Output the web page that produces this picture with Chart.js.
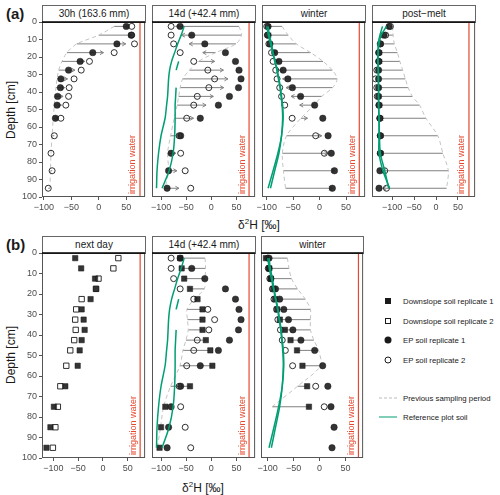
<!DOCTYPE html>
<html>
<head>
<meta charset="utf-8">
<script src="https://cdn.jsdelivr.net/npm/chart.js@4.4.0/dist/chart.umd.min.js"></script>
<style>
  body { margin: 0; background: #fff; width: 500px; height: 495px; position: relative; overflow: hidden;
         font-family: "Liberation Sans", Arial, sans-serif; color: #1a1a1a; }
  canvas { position: absolute; }
  .strip { position: absolute; box-sizing: border-box; border: 1px solid #666; background: #fff;
           font-size: 10px; text-align: center; line-height: 15px; white-space: nowrap; }
  .lbl { position: absolute; white-space: nowrap; }
  .tag { font-weight: bold; font-size: 15px; }
  .ytitle { font-size: 12px; transform: translate(-50%, -50%) rotate(-90deg); }
  .xtitle { font-size: 12px; transform: translate(-50%, -50%); }
  .xtick { position: absolute; font-size: 9px; color: #4d4d4d; white-space: nowrap; transform: translateX(-50%); line-height: 10px; }
  .leg { position: absolute; font-size: 7.8px; white-space: nowrap; transform: translateY(-50%); left: 403px; }
  .sym { position: absolute; box-sizing: border-box; transform: translate(-50%, -50%); }
</style>
</head>
<body>

<div class="lbl tag" style="left:6px; top:5px;">(a)</div>
<div class="lbl tag" style="left:6px; top:236px;">(b)</div>
<div class="lbl ytitle" style="left:11px; top:110px;">Depth [cm]</div>
<div class="lbl ytitle" style="left:11px; top:355px;">Depth [cm]</div>
<div class="lbl xtitle" style="left:259px; top:224px;">δ<sup style="font-size:8px">2</sup>H [‰]</div>
<div class="lbl xtitle" style="left:203px; top:487px;">δ<sup style="font-size:8px">2</sup>H [‰]</div>

<div class="sym" style="left:388px; top:301px; width:6px; height:6px; background:#1a1a1a;"></div>
<div class="leg" style="top:301px;">Downslope soil replicate 1</div>
<div class="sym" style="left:388px; top:321px; width:6px; height:6px; border:1px solid #1a1a1a;"></div>
<div class="leg" style="top:321px;">Downslope soil replicate 2</div>
<div class="sym" style="left:388px; top:340px; width:7px; height:7px; border-radius:50%; background:#1a1a1a;"></div>
<div class="leg" style="top:340px;">EP soil replicate 1</div>
<div class="sym" style="left:388px; top:360px; width:7px; height:7px; border-radius:50%; border:1px solid #1a1a1a;"></div>
<div class="leg" style="top:360px;">EP soil replicate 2</div>
<div class="sym" style="left:388px; top:398px; width:18px; height:0; border-top:1px dashed #bbb;"></div>
<div class="leg" style="top:398px;">Previous sampling period</div>
<div class="sym" style="left:388px; top:417px; width:18px; height:0; border-top:1.5px solid #009E73;"></div>
<div class="leg" style="top:417px;">Reference plot soil</div>

<script>
// profondidades amostradas (cm)
const depths = [2.5, 7.5, 12.5, 17.5, 22.5, 27.5, 32.5, 37.5, 42.5, 47.5, 55, 65, 75, 85, 95];
const xTicks = [-100, -50, 0, 50];
const yTicks = [0, 10, 20, 30, 40, 50, 60, 70, 80, 90, 100];
const irrigation = 75;

// EP soil, 30h
const ep1_30h = [50, 59, 33, -11, -34, -55, -69, -70, -75, -76, -79, null, null, null, null];
const ep2_30h = [60, 60, 65, 28, -17, -32, -45, -54, -55, -60, -69, -81, -87, -85, -92];
const prevEp_30h = [28, 0, -40, -58, -67, -73, -76, -78, -80, -81, -83, -85, -87, -88, -89];
const meanEp_30h = [55, 60, 49, 8.5, -25.5, -43.5, -57, -62, -65, -68, -74, -81, -87, -85, -92];

// EP soil, 14d
const ep1_14d = [-62, -39, -13, 28, 48, 55, 59, 54, 36, 14, -22, -61, -80, -85, -88];
const ep2_14d = [-80, -80, -75, -62, -35, -7, 6.5, -5, -28, -35, -49, -64, -61, -52, -41];
const meanEp_14d = [-71, -59.5, -44, -17, 6.5, 24, 33, 24.5, 4, -10.5, -35.5, -62.5, -70.5, -68.5, -64.5];

// EP soil, winter
const ep1_win = [-97.5, -97.5, -94, -85, -77, -69, -60, -51.5, -36, -9.4, 6, 16, 22, 28, 24];
const ep2_win = [-100, -99, -96, -91, -88, -83, -80.5, -75.5, -72, -66, -52, -7.5, 9, null, null];
const meanEp_win = [-99, -98, -95, -88, -82.5, -76, -70, -63.5, -54, -37.7, -23, 4, 15.5, 28, 24];

// EP soil, post-melt
const ep1_pm = [-107, -119, -127, -130, -130, -131, -131, -131, -131, -130, -128, -127, -127, -128, -130];
const ep2_pm = [-104, -115, -127, -131, -131, -135, -138, -135, -134, -130, -128, -127, -127, -117, -113];
const meanEp_pm = [-105.5, -117, -127, -130.5, -130.5, -133, -134.5, -133, -132.5, -130, -128, -127, -127, -122.5, -121.5];

// downslope soil
const ds1_nd = [-56, -44, -16, -14, -25, -43, -39, -37, -43, -47, -51, -76, -99, -106, -114];
const ds2_nd = [31, 21, -9, -14, -43, -54, -56, -55, -58, -66, -74, -86, -91, -96, -101];
const meanDs_nd = [-12.5, -11.5, -12.5, -14, -34, -48.5, -47.5, -46, -50.5, -56.5, -62.5, -81, -95, -101, -107.5];
const ds1_14d = [-62, -59, -54, -42.5, -27.5, -17.6, -17.6, -17.6, -11, -2, 2, -42.5, -91.5, -100, -103];
const ds1_win = [-103.5, -97, -94, -89.5, -86, -82, -76.6, -67, -56, -43.5, -33, -24, -20.5, null, null];

// reference plot soil
const ref1_14d = [-54, -60, -67, -73, -79, -83, -85, -86, -87, -89, -92, -100, -105, -108, -109];
const ref2_14d = [null, null, null, null, -65, -70, null, -70, -71, -72, -72, -73, -76, -84, -98];
const ref1_win = [-97.5, -95, -91, -88, -84, -80, -77, -74, -72, -70, -69, -72, -79, -88, -97.5];
const ref2_win = [-100, -97, -93, -89, -85, -81, -78, -75, -73, -71, -70, -72, -77, -85, -93];
const ref1_pm = [-122, -128, -132, -132, -132, -131, -131, -131, -131, -131, -130, -130, -130, -121, -106];
const ref2_pm = [-113, -125, -130, -132, -133, -132, -132, -131, -131, -131, -130, -129, -127, -117, -108];

const GREEN = '#009E73', RED = '#E4492F', SEG = '#808080', DASH = '#c4c4c4', FRAME = '#555', TXT = '#4d4d4d';
const FONT = '"Liberation Sans", Arial, sans-serif';
Chart.defaults.font.family = FONT;

const ROW = { a: { top: 22, h: 175 }, b: { top: 253, h: 205 } };
const PAD_TOP = 8, X_AXIS_H = 20, Y_AXIS_W = 36;

const panels = [
  { row: 'a', left: 42, width: 104, xMin: -103.4, xMax: 84.3, strip: '30h (163.6 mm)', yAxis: true,
    prev: prevEp_30h, cur: meanEp_30h, arrows: true, ep1: ep1_30h, ep2: ep2_30h },
  { row: 'a', left: 152, width: 104, xMin: -118, xMax: 87, strip: '14d (+42.4 mm)',
    prev: meanEp_30h, cur: meanEp_14d, arrows: true, ep1: ep1_14d, ep2: ep2_14d, green: [ref1_14d, ref2_14d] },
  { row: 'a', left: 262, width: 104, xMin: -109, xMax: 86, strip: 'winter',
    prev: meanEp_14d, cur: meanEp_win, arrows: true, ep1: ep1_win, ep2: ep2_win, green: [ref1_win, ref2_win] },
  { row: 'a', left: 372, width: 104, xMin: -146, xMax: 89, strip: 'post\u2212melt',
    prev: meanEp_win, cur: meanEp_pm, arrows: true, ep1: ep1_pm, ep2: ep2_pm, green: [ref1_pm, ref2_pm] },
  { row: 'b', left: 42, width: 104, xMin: -123, xMax: 85, strip: 'next day', yAxis: true,
    ds1: ds1_nd, ds2: ds2_nd },
  { row: 'b', left: 152, width: 104, xMin: -118, xMax: 87, strip: '14d (+42.4 mm)',
    prev: meanDs_nd, cur: ds1_14d, ds1: ds1_14d, ep1: ep1_14d, ep2: ep2_14d, green: [ref1_14d, ref2_14d] },
  { row: 'b', left: 261, width: 103, xMin: -113, xMax: 84, strip: 'winter',
    prev: ds1_14d, cur: ds1_win, ds1: ds1_win, ep1: ep1_win, ep2: ep2_win, green: [ref1_win, ref2_win] }
];

function fmt(v) { return v < 0 ? '\u2212' + Math.abs(v) : String(v); }

function pts(vals) {
  const out = [];
  vals.forEach((v, i) => { if (v !== null) out.push({ x: v, y: depths[i] }); });
  return out;
}

function runs(vals) {
  const res = []; let cur = [];
  vals.forEach((v, i) => {
    if (v === null) { if (cur.length) res.push(cur); cur = []; }
    else cur.push({ x: v, y: depths[i] });
  });
  if (cur.length) res.push(cur);
  return res;
}

function lineSets(vals, color, width, dash, order) {
  return runs(vals).map(r => ({ data: r, showLine: true, borderColor: color, borderWidth: width,
    borderDash: dash, pointRadius: 0, tension: 0.3, fill: false, order: order }));
}

function pointSet(vals, style, r, filled, order) {
  return { data: pts(vals), pointStyle: style, pointRadius: r, order: order,
    backgroundColor: filled ? 'rgba(30,30,30,0.9)' : 'rgba(0,0,0,0)',
    borderColor: '#1a1a1a', borderWidth: filled ? 0.5 : 0.9 };
}

const deco = {
  id: 'deco',
  beforeDatasetsDraw(chart, args, o) {
    const { ctx, chartArea: a, scales: { x, y } } = chart;
    const xr = x.getPixelForValue(irrigation);
    ctx.save();
    ctx.strokeStyle = RED; ctx.lineWidth = 1.2;
    ctx.beginPath(); ctx.moveTo(xr, a.top); ctx.lineTo(xr, a.bottom); ctx.stroke();
    ctx.translate(xr - 2.5, a.bottom - 3);
    ctx.rotate(-Math.PI / 2);
    ctx.fillStyle = RED; ctx.font = '9px ' + FONT;
    ctx.textAlign = 'left'; ctx.textBaseline = 'bottom';
    ctx.fillText('irrigation water', 0, 0);
    ctx.restore();

    if (!o.prev) return;
    ctx.save();
    ctx.strokeStyle = SEG; ctx.lineWidth = 1;
    depths.forEach((d, i) => {
      const f = o.prev[i], t = o.cur[i];
      if (f == null || t == null) return;
      const p0 = x.getPixelForValue(f), p1 = x.getPixelForValue(t), py = y.getPixelForValue(d);
      ctx.beginPath(); ctx.moveTo(p0, py); ctx.lineTo(p1, py); ctx.stroke();
      if (o.arrows && Math.abs(p1 - p0) > 4) {
        const s = Math.sign(p1 - p0);
        ctx.beginPath();
        ctx.moveTo(p1 - s * 3.5, py - 2); ctx.lineTo(p1, py); ctx.lineTo(p1 - s * 3.5, py + 2);
        ctx.stroke();
      }
    });
    ctx.restore();
  },
  afterDatasetsDraw(chart) {
    const { ctx, chartArea: a, scales: { y } } = chart;
    ctx.save();
    ctx.strokeStyle = FRAME; ctx.lineWidth = 1;
    ctx.strokeRect(a.left + 0.5, a.top + 0.5, a.width - 1, a.height - 1);
    ctx.strokeStyle = '#000'; ctx.lineWidth = 1.4;
    const y0 = y.getPixelForValue(0);
    ctx.beginPath(); ctx.moveTo(a.left, y0); ctx.lineTo(a.right, y0); ctx.stroke();
    ctx.restore();
  }
};

function makePanel(p) {
  const r = ROW[p.row];
  const yW = p.yAxis ? Y_AXIS_W : 0;
  const padL = p.yAxis ? 2 : 14, padR = 4;
  const w = p.width + yW + padL + padR, h = r.h + PAD_TOP + X_AXIS_H;
  const cvLeft = p.left - yW - padL, cvTop = r.top - PAD_TOP;

  const strip = document.createElement('div');
  strip.className = 'strip';
  strip.style.left = p.left + 'px'; strip.style.top = (r.top - 17) + 'px';
  strip.style.width = p.width + 'px'; strip.style.height = '18px';
  strip.textContent = p.strip;
  document.body.appendChild(strip);

  const cv = document.createElement('canvas');
  cv.width = w; cv.height = h;
  cv.style.left = cvLeft + 'px';
  cv.style.top = cvTop + 'px';
  document.body.appendChild(cv);

  let sets = [];
  if (p.prev) {
    const shown = p.prev.map((v, i) => p.cur[i] === null ? null : v);
    sets = sets.concat(lineSets(shown, DASH, 1, [4, 3], 20));
  }
  if (p.ep2) sets.push(pointSet(p.ep2, 'circle', 3, false, 6));
  if (p.ep1) sets.push(pointSet(p.ep1, 'circle', 3.2, true, 5));
  if (p.ds2) sets.push(pointSet(p.ds2, 'rect', 3.8, false, 4));
  if (p.ds1) sets.push(pointSet(p.ds1, 'rect', 3.8, true, 3));
  (p.green || []).forEach(g => { sets = sets.concat(lineSets(g, GREEN, 1.5, [], 0)); });

  const tickFont = { size: 9, family: FONT };
  const chart = new Chart(cv, {
    type: 'scatter',
    data: { datasets: sets },
    options: {
      responsive: false, animation: false, events: [],
      layout: { padding: { left: padL, right: padR, top: PAD_TOP, bottom: 0 } },
      plugins: { legend: { display: false }, tooltip: { enabled: false },
        deco: { prev: p.prev, cur: p.cur, arrows: p.arrows } },
      scales: {
        x: {
          type: 'linear', min: p.xMin, max: p.xMax,
          afterBuildTicks: s => { s.ticks = xTicks.map(v => ({ value: v })); },
          afterFit: s => { s.height = X_AXIS_H; },
          grid: { drawOnChartArea: false, drawTicks: true, tickLength: 3, color: FRAME },
          border: { display: false },
          ticks: { display: false }
        },
        y: {
          type: 'linear', reverse: true, min: 0, max: 100, display: !!p.yAxis,
          afterBuildTicks: s => { s.ticks = yTicks.map(v => ({ value: v })); },
          afterFit: s => { s.width = yW; },
          grid: { drawOnChartArea: false, drawTicks: true, tickLength: 3, color: FRAME },
          border: { display: false },
          ticks: { color: TXT, font: tickFont, padding: 2, autoSkip: false }
        }
      }
    },
    plugins: [deco]
  });

  // rótulos do eixo x em HTML, posicionados pela escala do Chart.js
  const xs = chart.scales.x;
  xTicks.forEach(v => {
    const t = document.createElement('div');
    t.className = 'xtick';
    t.style.left = (cvLeft + xs.getPixelForValue(v)) + 'px';
    t.style.top = (cvTop + chart.chartArea.bottom + 5) + 'px';
    t.textContent = fmt(v);
    document.body.appendChild(t);
  });
}

panels.forEach(makePanel);
</script>
</body>
</html>
